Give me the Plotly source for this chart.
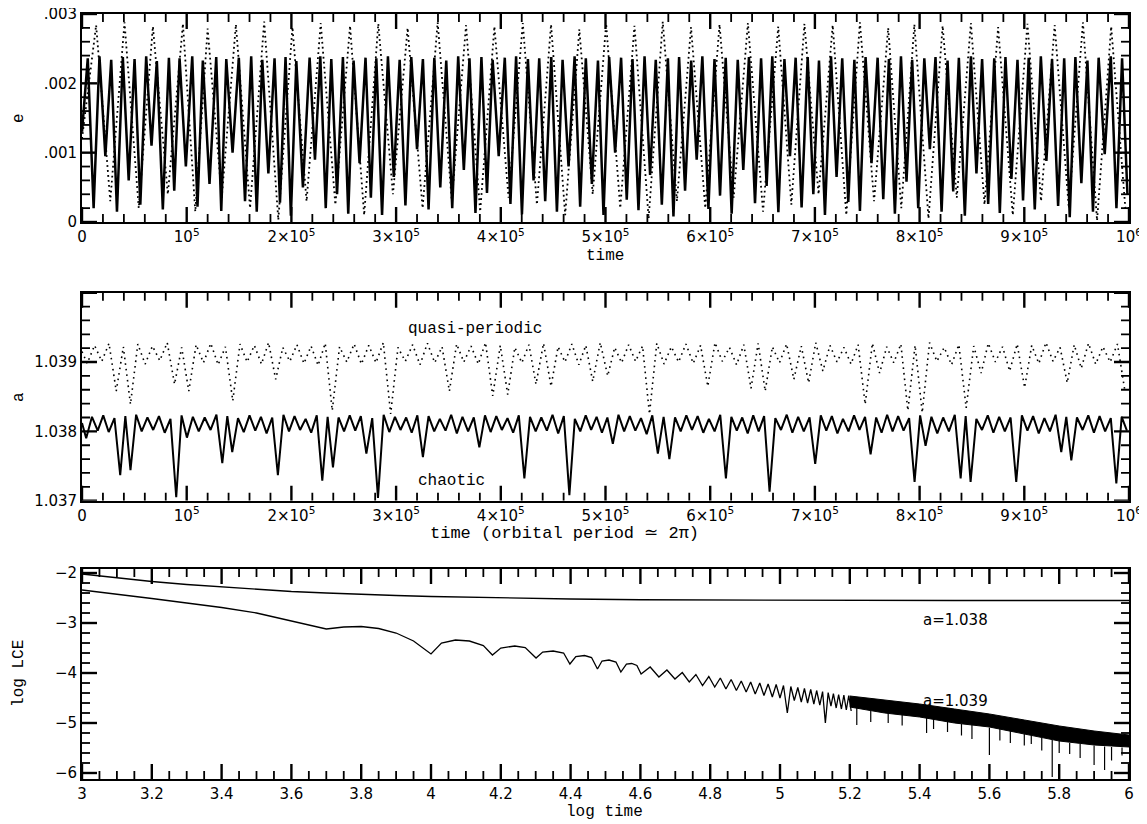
import plotly.graph_objects as go

# ================= DATA =================
# ---- Panel 1: eccentricity e vs time (time in 1e3, e in 1e-4) ----
e_sol_start_t = [0.0]
e_sol_start_v = [13.0]
e_sol_peak_t = [5.5, 16.7, 27.9, 39.0, 50.2, 61.3, 71.5, 83.0, 93.2, 105.3,
                115.4, 128.2, 137.8, 149.8, 161.6, 172.2, 183.9, 194.4, 204.7, 217.4,
                227.6, 238.1, 249.2, 259.4, 270.8, 281.1, 292.2, 303.4, 314.5, 325.6,
                336.5, 347.9, 359.3, 370.1, 381.5, 392.2, 403.8, 414.6, 425.9, 436.7,
                448.2, 459.0, 470.5, 481.2, 492.8, 503.5, 514.9, 525.8, 537.3, 548.0,
                559.6, 570.3, 581.8, 592.5, 604.1, 614.8, 626.3, 637.0, 648.6, 659.3,
                670.9, 681.6, 693.1, 703.9, 715.4, 726.1, 737.7, 748.4, 759.9, 770.7,
                782.2, 792.9, 804.5, 815.2, 826.7, 837.5, 849.0, 859.7, 871.3, 882.0,
                893.5, 904.2, 915.8, 926.5, 938.1, 948.8, 960.3, 971.0, 982.6, 993.4]
e_sol_peak_v = [23.6, 23.9, 23.4, 23.8, 23.5, 23.9, 23.2, 23.7, 23.6, 23.9,
                23.3, 23.8, 23.5, 23.7, 23.9, 23.4, 23.6, 23.8, 23.2, 23.7,
                23.9, 23.5, 23.8, 23.3, 23.7, 23.6, 23.9, 23.4, 23.8, 23.5,
                23.7, 23.3, 23.9, 23.6, 23.8, 23.4, 23.7, 23.9, 23.5, 23.6,
                23.8, 23.4, 23.9, 23.6, 23.3, 23.8, 23.7, 23.5, 23.9, 23.4,
                23.6, 23.8, 23.3, 23.9, 23.5, 23.7, 23.4, 23.8, 23.6, 23.9,
                23.5, 23.7, 23.8, 23.3, 23.9, 23.6, 23.4, 23.8, 23.7, 23.5,
                23.9, 23.4, 23.6, 23.8, 23.3, 23.7, 23.9, 23.5, 23.6, 23.8,
                23.4, 23.7, 23.9, 23.5, 23.6, 23.8, 23.3, 23.7, 23.9, 23.6]
e_sol_trough_t = [11.1, 22.3, 33.4, 44.6, 55.7, 66.4, 77.2, 88.1, 99.2, 110.3,
                  121.8, 133.0, 143.8, 155.7, 166.9, 178.0, 189.1, 199.5, 211.0, 222.5,
                  232.8, 243.6, 254.3, 265.1, 275.9, 286.6, 297.8, 308.9, 320.0, 331.0,
                  342.2, 353.6, 364.7, 375.8, 386.8, 398.0, 409.2, 420.2, 431.3, 442.4,
                  453.6, 464.7, 475.8, 487.0, 498.1, 509.2, 520.3, 531.5, 542.6, 553.8,
                  564.9, 576.0, 587.1, 598.3, 609.4, 620.5, 631.6, 642.8, 653.9, 665.1,
                  676.2, 687.3, 698.5, 709.6, 720.7, 731.9, 743.0, 754.1, 765.3, 776.4,
                  787.5, 798.7, 809.8, 821.0, 832.1, 843.2, 854.3, 865.5, 876.6, 887.7,
                  898.8, 910.0, 921.1, 932.3, 943.4, 954.5, 965.6, 976.8, 988.0, 998.5]
e_sol_trough_v = [2.0, 9.5, 1.5, 6.0, 2.5, 11.0, 1.8, 4.5, 8.0, 2.2,
                  5.5, 1.6, 10.0, 3.0, 1.5, 7.0, 2.8, 0.9, 5.0, 9.0,
                  2.0, 4.0, 1.2, 8.5, 3.5, 1.0, 6.5, 2.4, 10.5, 1.8,
                  5.0, 2.0, 7.5, 1.3, 4.2, 9.5, 2.6, 1.1, 6.0, 3.0,
                  1.5, 8.0, 2.2, 5.5, 1.0, 10.0, 3.2, 1.7, 6.8, 2.5,
                  0.8, 4.5, 9.0, 1.9, 3.8, 1.2, 7.5, 2.7, 5.2, 1.4,
                  9.5, 2.1, 4.0, 1.0, 6.5, 2.9, 1.6, 8.5, 3.3, 1.2,
                  5.8, 2.0, 10.5, 1.5, 4.4, 0.9, 7.0, 2.6, 1.3, 6.2,
                  3.1, 1.8, 8.8, 2.3, 0.7, 5.6, 1.5, 9.8, 2.0, 4.0]

e_dot_start_t = [0.0]
e_dot_start_v = [12.0]
e_dot_peak_t = [13.5, 40.6, 67.7, 96.4, 120.0, 147.0, 174.0, 201.0, 228.0, 256.0,
                283.0, 311.0, 339.7, 366.8, 393.9, 421.0, 448.0, 475.0, 500.6, 527.7,
                554.7, 581.7, 608.9, 636.0, 665.0, 690.0, 717.0, 743.0, 770.0, 795.0,
                822.0, 849.0, 875.0, 903.0, 929.0, 956.0, 983.0]
e_dot_peak_v = [28.4, 28.8, 28.2, 28.6, 27.9, 28.5, 28.9, 28.1, 28.7, 28.3,
                28.6, 28.0, 28.8, 28.4, 28.2, 28.7, 28.5, 27.8, 28.6, 28.3,
                28.9, 28.1, 28.5, 28.7, 28.2, 28.6, 28.4, 28.8, 28.0, 28.5,
                28.3, 28.7, 28.1, 28.6, 28.4, 28.8, 28.2]
e_dot_trough_t = [27.0, 54.2, 82.0, 108.2, 133.5, 160.5, 187.5, 214.5, 242.0, 269.5,
                  297.0, 325.3, 353.2, 380.3, 407.4, 434.5, 461.5, 487.8, 514.1, 541.2,
                  568.2, 595.3, 622.4, 650.5, 677.5, 703.5, 730.0, 756.5, 782.5, 808.5,
                  835.5, 862.0, 889.0, 916.0, 942.5, 969.5, 996.5]
e_dot_trough_v = [3.0, 2.0, 4.0, 1.5, 3.5, 2.0, 0.3, 3.0, 2.5, 1.0,
                  4.0, 2.0, 3.0, 1.5, 3.5, 2.5, 1.0, 4.0, 2.0, 0.5,
                  3.0, 2.0, 3.5, 1.5, 2.5, 4.0, 1.0, 3.0, 2.0, 0.5,
                  3.5, 2.5, 1.0, 3.0, 2.0, 0.2, 2.0]

# ---- Panel 2: semi-major axis a vs time (time in 1e3) ----
a_cha_start_t = [0.0]
a_cha_start_v = [1.03812]
a_cha_cusp_t = [4, 15, 25.5, 36.5, 46.3, 57, 68, 79, 90, 100.2,
                111.5, 122.8, 134, 143.5, 154.5, 165.5, 176.3, 187.1, 197.7, 208.3,
                218.9, 229.5, 239.7, 250.3, 261, 271.6, 282.7, 293.5, 304.2, 314.9,
                325.6, 336.4, 347.2, 358, 368.8, 379.5, 390.3, 401, 411.8, 422.5,
                433.3, 444, 454.8, 465.5, 475.9, 486.3, 496.6, 507, 517.8, 528.5,
                539.3, 550, 561, 571.8, 582.6, 593.4, 604.2, 615, 625.4, 635.8,
                646.3, 656.7, 667.6, 678.5, 689.4, 700.3, 710.9, 721.5, 732.1, 742.6,
                753.2, 763.7, 774.2, 784.7, 795.2, 805.7, 816.9, 828, 839.2, 848.7,
                859.6, 870.5, 881.4, 892.3, 903, 913.8, 924.5, 935.3, 944.9, 955.7,
                966.5, 977.2, 987.9, 998]
a_cha_cusp_v = [1.03790, 1.03801, 1.03799, 1.03737, 1.03744, 1.03800, 1.03802, 1.03798, 1.03705, 1.03791,
                1.03800, 1.03802, 1.03754, 1.03770, 1.03799, 1.03801, 1.03797, 1.03737, 1.03800, 1.03802,
                1.03798, 1.03729, 1.03748, 1.03800, 1.03801, 1.03768, 1.03704, 1.03799, 1.03802, 1.03798,
                1.03763, 1.03800, 1.03801, 1.03797, 1.03800, 1.03777, 1.03799, 1.03802, 1.03798, 1.03732,
                1.03800, 1.03801, 1.03797, 1.03708, 1.03800, 1.03802, 1.03798, 1.03782, 1.03800, 1.03801,
                1.03796, 1.03768, 1.03760, 1.03800, 1.03802, 1.03798, 1.03800, 1.03732, 1.03801, 1.03797,
                1.03800, 1.03713, 1.03802, 1.03798, 1.03800, 1.03753, 1.03801, 1.03797, 1.03800, 1.03802,
                1.03767, 1.03798, 1.03800, 1.03801, 1.03727, 1.03779, 1.03797, 1.03800, 1.03732, 1.03727,
                1.03802, 1.03798, 1.03800, 1.03727, 1.03801, 1.03797, 1.03800, 1.03770, 1.03758, 1.03802,
                1.03798, 1.03800, 1.03725, 1.03801]
a_cha_top_t = [9.5, 20.3, 31, 41.4, 51.7, 62.5, 73.5, 84.5, 95.1, 105.9,
               117.2, 128.4, 138.8, 149, 160, 170.9, 181.7, 192.4, 203, 213.6,
               224.2, 234.6, 245, 255.7, 266.3, 277.2, 288.1, 298.9, 309.6, 320.3,
               331, 341.8, 352.6, 363.4, 374.2, 384.9, 395.7, 406.4, 417.2, 427.9,
               438.7, 449.4, 460.2, 470.7, 481.1, 491.5, 501.8, 512.4, 523.2, 533.9,
               544.7, 555.5, 566.4, 577.2, 588, 598.8, 609.6, 620.2, 630.6, 641.1,
               651.5, 662.2, 673.1, 684, 694.9, 705.6, 716.2, 726.8, 737.4, 747.9,
               758.5, 769, 779.5, 790, 800.5, 811.3, 822.5, 833.6, 844, 854.2,
               865.1, 876, 886.9, 897.7, 908.4, 919.2, 929.9, 940.1, 950.3, 961.1,
               971.9, 982.6, 993]
a_cha_top_v = [1.03821, 1.03823, 1.03819, 1.03822, 1.03824, 1.03820, 1.03822, 1.03818, 1.03823, 1.03821,
               1.03820, 1.03824, 1.03822, 1.03819, 1.03823, 1.03821, 1.03820, 1.03824, 1.03822, 1.03818,
               1.03823, 1.03821, 1.03820, 1.03823, 1.03822, 1.03819, 1.03824, 1.03821, 1.03820, 1.03823,
               1.03822, 1.03818, 1.03824, 1.03821, 1.03820, 1.03823, 1.03822, 1.03819, 1.03823, 1.03821,
               1.03820, 1.03824, 1.03822, 1.03818, 1.03823, 1.03821, 1.03820, 1.03824, 1.03822, 1.03819,
               1.03823, 1.03821, 1.03820, 1.03823, 1.03822, 1.03818, 1.03824, 1.03821, 1.03820, 1.03823,
               1.03822, 1.03819, 1.03824, 1.03821, 1.03820, 1.03823, 1.03822, 1.03818, 1.03823, 1.03821,
               1.03820, 1.03824, 1.03822, 1.03819, 1.03823, 1.03821, 1.03820, 1.03824, 1.03822, 1.03818,
               1.03823, 1.03821, 1.03820, 1.03823, 1.03822, 1.03819, 1.03824, 1.03821, 1.03820, 1.03823,
               1.03822, 1.03819, 1.03821]

a_qp_start_t = [0.0]
a_qp_start_v = [1.03915]
a_qp_cusp_t = [5, 18.9, 32.7, 46.3, 60.3, 74.3, 88.4, 102, 116, 130,
               144, 157.7, 171.4, 185, 198.5, 212, 225.5, 239, 252.9, 266.9,
               280.8, 294.8, 308.8, 322.8, 336.9, 350.9, 364.7, 378.5, 392.3, 406.6,
               420.1, 433.6, 448, 461.3, 474.5, 487.8, 502.1, 515.4, 528.7, 542,
               555.9, 569.8, 583.8, 597.7, 611.5, 625.2, 639, 652.5, 666.2, 679.9,
               694, 707.6, 721.1, 734.5, 748, 761.8, 775.3, 788.8, 802.5, 816.5,
               830.5, 844.5, 858.8, 872.4, 886, 900.3, 913.9, 927.4, 941, 954.4,
               968.2, 982, 995.9]
a_qp_cusp_v = [1.03898, 1.03901, 1.03858, 1.03839, 1.03897, 1.03902, 1.03868, 1.03858, 1.03899, 1.03896,
               1.03844, 1.03900, 1.03897, 1.03875, 1.03901, 1.03898, 1.03895, 1.03830, 1.03900, 1.03897,
               1.03899, 1.03825, 1.03901, 1.03896, 1.03899, 1.03858, 1.03900, 1.03897, 1.03851, 1.03853,
               1.03899, 1.03868, 1.03865, 1.03900, 1.03896, 1.03872, 1.03880, 1.03899, 1.03901, 1.03825,
               1.03897, 1.03900, 1.03898, 1.03865, 1.03901, 1.03896, 1.03862, 1.03858, 1.03899, 1.03875,
               1.03870, 1.03887, 1.03900, 1.03897, 1.03839, 1.03884, 1.03899, 1.03830, 1.03827, 1.03901,
               1.03896, 1.03834, 1.03884, 1.03900, 1.03887, 1.03863, 1.03898, 1.03901, 1.03870, 1.03891,
               1.03897, 1.03900, 1.03860]
a_qp_top_t = [12, 25.8, 39.5, 53.3, 67.3, 81.4, 95.2, 109, 123, 137,
              150.9, 164.6, 178.2, 191.8, 205.3, 218.8, 232.3, 246, 259.9, 273.9,
              287.8, 301.8, 315.8, 329.9, 343.9, 357.8, 371.6, 385.4, 399.5, 413.4,
              426.9, 440.8, 454.7, 467.9, 481.2, 495, 508.8, 522.1, 535.4, 549,
              562.9, 576.8, 590.8, 604.6, 618.4, 632.1, 645.8, 659.4, 673, 687,
              700.8, 714.4, 727.8, 741.3, 754.9, 768.6, 782.1, 795.7, 809.5, 823.5,
              837.5, 851.7, 865.6, 879.2, 893.2, 907.1, 920.7, 934.2, 947.7, 961.3,
              975.1, 989]
a_qp_top_v = [1.03924, 1.03927, 1.03922, 1.03926, 1.03923, 1.03928, 1.03921, 1.03925, 1.03927, 1.03922,
              1.03926, 1.03924, 1.03928, 1.03921, 1.03925, 1.03923, 1.03927, 1.03922, 1.03926, 1.03924,
              1.03928, 1.03921, 1.03925, 1.03927, 1.03922, 1.03926, 1.03923, 1.03928, 1.03924, 1.03921,
              1.03925, 1.03927, 1.03922, 1.03926, 1.03924, 1.03928, 1.03921, 1.03925, 1.03923, 1.03927,
              1.03922, 1.03926, 1.03924, 1.03928, 1.03921, 1.03925, 1.03927, 1.03922, 1.03926, 1.03923,
              1.03928, 1.03924, 1.03921, 1.03925, 1.03927, 1.03922, 1.03926, 1.03924, 1.03928, 1.03921,
              1.03925, 1.03923, 1.03927, 1.03922, 1.03926, 1.03924, 1.03928, 1.03921, 1.03925, 1.03927,
              1.03922, 1.03926]

# ---- Panel 3: log LCE vs log time ----
lce038_x = [3.0, 3.1, 3.2, 3.3, 3.4, 3.5, 3.6, 3.7, 3.8, 3.9, 4.0, 4.2, 4.4, 4.6, 4.8, 5.0, 5.5, 6.0]
lce038_y = [-2.02, -2.10, -2.17, -2.23, -2.28, -2.33, -2.37, -2.40, -2.43, -2.45, -2.47,
            -2.50, -2.52, -2.535, -2.54, -2.545, -2.55, -2.55]

lce039_x = [3.0, 3.1, 3.2, 3.3, 3.4, 3.5, 3.6, 3.7, 3.75, 3.8, 3.85, 3.9, 3.95, 4.0,
            4.03, 4.07, 4.11, 4.15, 4.176, 4.2, 4.24, 4.27, 4.301, 4.32, 4.35, 4.38, 4.398,
            4.415, 4.44, 4.46, 4.477, 4.49, 4.51, 4.53, 4.544, 4.56, 4.575, 4.59, 4.602,
            4.628, 4.653, 4.676, 4.699, 4.72, 4.740, 4.759, 4.778, 4.796, 4.813, 4.829, 4.845,
            4.86, 4.875, 4.889, 4.903, 4.916, 4.929, 4.942, 4.954, 4.966, 4.978, 4.989, 5.0,
            5.01, 5.021, 5.031, 5.041, 5.051, 5.061, 5.07, 5.079, 5.088, 5.097, 5.105, 5.114,
            5.122, 5.130, 5.138, 5.146, 5.153, 5.161, 5.168, 5.176, 5.183, 5.190, 5.197, 5.204]
lce039_y = [-2.34, -2.42, -2.51, -2.60, -2.69, -2.80, -2.96, -3.12, -3.08, -3.07, -3.11, -3.20, -3.36, -3.62,
            -3.40, -3.34, -3.36, -3.45, -3.64, -3.50, -3.46, -3.49, -3.70, -3.58, -3.56, -3.60, -3.82,
            -3.67, -3.65, -3.69, -3.92, -3.76, -3.74, -3.78, -3.98, -3.82, -3.81, -3.85, -4.02,
            -3.88, -4.08, -3.94, -4.12, -3.99, -4.18, -4.03, -4.25, -4.07, -4.28, -4.10, -4.32,
            -4.13, -4.35, -4.16, -4.38, -4.18, -4.42, -4.20, -4.45, -4.22, -4.48, -4.23, -4.50,
            -4.25, -4.80, -4.27, -4.55, -4.29, -4.58, -4.31, -4.60, -4.33, -4.62, -4.35, -4.64,
            -4.37, -5.00, -4.39, -4.66, -4.41, -4.70, -4.43, -4.72, -4.44, -4.74, -4.45, -4.76]
band_x = [5.2, 5.3, 5.4, 5.5, 5.6, 5.7, 5.8, 5.9, 6.0]
band_hi = [-4.46, -4.54, -4.62, -4.72, -4.82, -4.94, -5.06, -5.16, -5.24]
band_lo = [-4.68, -4.80, -4.88, -5.00, -5.08, -5.22, -5.36, -5.44, -5.48]
spike_x = [5.22, 5.26, 5.31, 5.35, 5.42, 5.44, 5.48, 5.52, 5.55, 5.60, 5.63, 5.66,
           5.70, 5.72, 5.75, 5.78, 5.80, 5.83, 5.86, 5.90, 5.93, 5.95, 5.98]
spike_top = [-4.70, -4.76, -4.80, -4.84, -4.90, -4.92, -4.96, -5.02, -5.04, -5.09, -5.12, -5.16,
             -5.22, -5.25, -5.30, -5.34, -5.36, -5.40, -5.42, -5.45, -5.47, -5.48, -5.49]
spike_bot = [-5.04, -4.98, -5.00, -5.05, -5.20, -5.12, -5.18, -5.25, -5.32, -5.64, -5.35, -5.40,
             -5.45, -5.42, -5.55, -6.08, -5.60, -5.62, -5.70, -5.84, -5.94, -5.75, -5.65]

# ---- tick labels ----
time_tick_vals = [0, 1e5, 2e5, 3e5, 4e5, 5e5, 6e5, 7e5, 8e5, 9e5, 1e6]
time_tick_text = ['0', '10<sup>5</sup>', '2×10<sup>5</sup>', '3×10<sup>5</sup>', '4×10<sup>5</sup>',
                  '5×10<sup>5</sup>', '6×10<sup>5</sup>', '7×10<sup>5</sup>', '8×10<sup>5</sup>',
                  '9×10<sup>5</sup>', '10<sup>6</sup>']
e_tick_vals = [0, 0.001, 0.002, 0.003]
e_tick_text = ['0', '.001', '.002', '.003']
a_tick_vals = [1.037, 1.038, 1.039, 1.040]
a_tick_text = ['1.037', '1.038', '1.039', '']
lt_tick_vals = [3, 3.2, 3.4, 3.6, 3.8, 4, 4.2, 4.4, 4.6, 4.8, 5, 5.2, 5.4, 5.6, 5.8, 6]
lt_tick_text = ['3', '3.2', '3.4', '3.6', '3.8', '4', '4.2', '4.4', '4.6', '4.8',
                '5', '5.2', '5.4', '5.6', '5.8', '6']
lce_tick_vals = [-6, -5, -4, -3, -2]
lce_tick_text = ['−6', '−5', '−4', '−3', '−2']


# ================= BUILD =================
def merge(*pairs):
    pts = []
    for t, v in pairs:
        pts += list(zip(t, v))
    pts.sort()
    return [p[0] for p in pts], [p[1] for p in pts]


es_t, es_v = merge((e_sol_start_t, e_sol_start_v), (e_sol_peak_t, e_sol_peak_v), (e_sol_trough_t, e_sol_trough_v))
ed_t, ed_v = merge((e_dot_start_t, e_dot_start_v), (e_dot_peak_t, e_dot_peak_v), (e_dot_trough_t, e_dot_trough_v))
ac_t, ac_v = merge((a_cha_start_t, a_cha_start_v), (a_cha_cusp_t, a_cha_cusp_v), (a_cha_top_t, a_cha_top_v))
aq_t, aq_v = merge((a_qp_start_t, a_qp_start_v), (a_qp_cusp_t, a_qp_cusp_v), (a_qp_top_t, a_qp_top_v))

fig = go.Figure()
K = 'black'
fig.add_trace(go.Scatter(x=[t * 1e3 for t in ed_t], y=[v * 1e-4 for v in ed_v], mode='lines',
                         line=dict(color=K, width=1.8, dash='1.8px,3.2px'), xaxis='x', yaxis='y'))
fig.add_trace(go.Scatter(x=[t * 1e3 for t in es_t], y=[v * 1e-4 for v in es_v], mode='lines',
                         line=dict(color=K, width=2.5), xaxis='x', yaxis='y'))
fig.add_trace(go.Scatter(x=[t * 1e3 for t in aq_t], y=aq_v, mode='lines',
                         line=dict(color=K, width=1.6, dash='1.6px,4px'), xaxis='x2', yaxis='y2'))
fig.add_trace(go.Scatter(x=[t * 1e3 for t in ac_t], y=ac_v, mode='lines',
                         line=dict(color=K, width=2.0), xaxis='x2', yaxis='y2'))
fig.add_trace(go.Scatter(x=lce038_x, y=lce038_y, mode='lines',
                         line=dict(color=K, width=1.3), xaxis='x3', yaxis='y3'))
fig.add_trace(go.Scatter(x=lce039_x, y=lce039_y, mode='lines',
                         line=dict(color=K, width=1.3), xaxis='x3', yaxis='y3'))
fig.add_trace(go.Scatter(x=band_x + band_x[::-1], y=band_hi + band_lo[::-1], mode='lines',
                         fill='toself', fillcolor=K, line=dict(color=K, width=1),
                         xaxis='x3', yaxis='y3'))
sx, sy = [], []
for x, a, b in zip(spike_x, spike_top, spike_bot):
    sx += [x, x, None]
    sy += [a, b, None]
fig.add_trace(go.Scatter(x=sx, y=sy, mode='lines', line=dict(color=K, width=1.2),
                         xaxis='x3', yaxis='y3'))

TICKFONT = dict(family='DejaVu Sans', size=15, color=K)
SERIF = dict(family='Liberation Mono', size=16, color=K)
TITLEFONT = dict(family='Liberation Mono', size=17, color=K)

# page body has an 8px margin: figure is shifted by (8, 8) in the screenshot
W, H = 1139, 816
ML, MR, MT, MB = 74, 18, 6, 45
PW = W - ML - MR          # plot width in px
PH = H - MT - MB          # plot height in px
TL_MAJ, TL_MIN = 15, 8


def ax(rng, vals, text, anchor, domain):
    return dict(range=rng, domain=domain, anchor=anchor, automargin=False,
                tickmode='array', tickvals=vals, ticktext=text, ticks='',
                showline=True, linecolor=K, linewidth=1.8, mirror=True,
                ticklabeloverflow='allow',
                showgrid=False, zeroline=False, tickfont=TICKFONT)


D1, D2, D3 = [0.7281, 1.0], [0.3638, 0.6357], [0.0, 0.2745]
R_T, R_E, R_A = [0, 1e6], [0, 0.003], [1.037, 1.040]
R_LT, R_LCE = [3, 6], [-6.12, -1.92]

fig.update_layout(
    width=W, height=H, showlegend=False,
    paper_bgcolor='white', plot_bgcolor='white',
    margin=dict(l=ML, r=MR, t=MT, b=MB, autoexpand=False),
    xaxis=ax(R_T, time_tick_vals, time_tick_text, 'y', [0, 1]),
    yaxis=ax(R_E, e_tick_vals, e_tick_text, 'x', D1),
    xaxis2=ax(R_T, time_tick_vals, time_tick_text, 'y2', [0, 1]),
    yaxis2=ax(R_A, a_tick_vals, a_tick_text, 'x2', D2),
    xaxis3=ax(R_LT, lt_tick_vals, lt_tick_text, 'y3', [0, 1]),
    yaxis3=ax(R_LCE, lce_tick_vals, lce_tick_text, 'x3', D3),
)


# ---- inside ticks on all four sides, drawn as line segments in axis units ----
def frange(a, b, s):
    out, v = [], a
    while v <= b + s * 1e-6:
        out.append(round(v, 9))
        v += s
    return out


def minors(a, b, s, majors):
    return [v for v in frange(a, b, s) if all(abs(v - m) > s * 0.1 for m in majors)]


def add_ticks(xa, ya, xr, yr, dom, xmaj, xmin_, ymaj, ymin_):
    hpx = (dom[1] - dom[0]) * PH
    ux = (xr[1] - xr[0]) / PW      # axis units per px (x)
    uy = (yr[1] - yr[0]) / hpx     # axis units per px (y)
    for xs, ys, L, w in ((xmaj, ymaj, TL_MAJ, 2.4), (xmin_, ymin_, TL_MIN, 1.8)):
        tx, ty = [], []
        for v in xs:
            tx += [v, v, None, v, v, None]
            ty += [yr[0], yr[0] + L * uy, None, yr[1], yr[1] - L * uy, None]
        for v in ys:
            tx += [xr[0], xr[0] + L * ux, None, xr[1], xr[1] - L * ux, None]
            ty += [v, v, None, v, v, None]
        fig.add_trace(go.Scatter(x=tx, y=ty, mode='lines', line=dict(color=K, width=w),
                                 hoverinfo='skip', xaxis=xa, yaxis=ya))


tmaj = frange(0, 1e6, 1e5)
tmin = minors(0, 1e6, 2e4, tmaj)
emaj = frange(0, 0.003, 0.001)
amaj = frange(1.037, 1.040, 0.001)
ltmaj = frange(3, 6, 0.2)
lmaj = frange(-6, -2, 1)
add_ticks('x', 'y', R_T, R_E, D1, tmaj, tmin, emaj, minors(0, 0.003, 0.0002, emaj))
add_ticks('x2', 'y2', R_T, R_A, D2, tmaj, tmin, amaj, minors(1.037, 1.040, 0.0002, amaj))
add_ticks('x3', 'y3', R_LT, R_LCE, D3, ltmaj, minors(3, 6, 0.05, ltmaj),
          lmaj, minors(-6, -2, 0.2, lmaj))

ann = [
    dict(text='e', x=-0.0602, y=0.8641, textangle=-90, font=SERIF),
    dict(text='a', x=-0.0602, y=0.4993, textangle=-90, font=SERIF),
    dict(text='log LCE', x=-0.0602, y=0.1386, textangle=-90, font=SERIF),
    dict(text='time', x=0.4995, y=0.6837, font=SERIF),
    dict(text='time (orbital period ≃ 2π)', x=0.4604, y=0.3203, font=TITLEFONT),
    dict(text='log time', x=0.4995, y=-0.0431, font=SERIF),
]
for a in ann:
    fig.add_annotation(xref='paper', yref='paper', showarrow=False,
                       xanchor='center', yanchor='middle', **a)
fig.add_annotation(text='quasi-periodic', x=375000, y=1.03948, xref='x2', yref='y2',
                   showarrow=False, font=SERIF)
fig.add_annotation(text='chaotic', x=353000, y=1.03728, xref='x2', yref='y2',
                   showarrow=False, font=SERIF)
fig.add_annotation(text='a=1.038', x=5.504, y=-2.94, xref='x3', yref='y3',
                   showarrow=False, font=TICKFONT)
fig.add_annotation(text='a=1.039', x=5.504, y=-4.56, xref='x3', yref='y3',
                   showarrow=False, font=TICKFONT)

fig.write_html('out.html')
